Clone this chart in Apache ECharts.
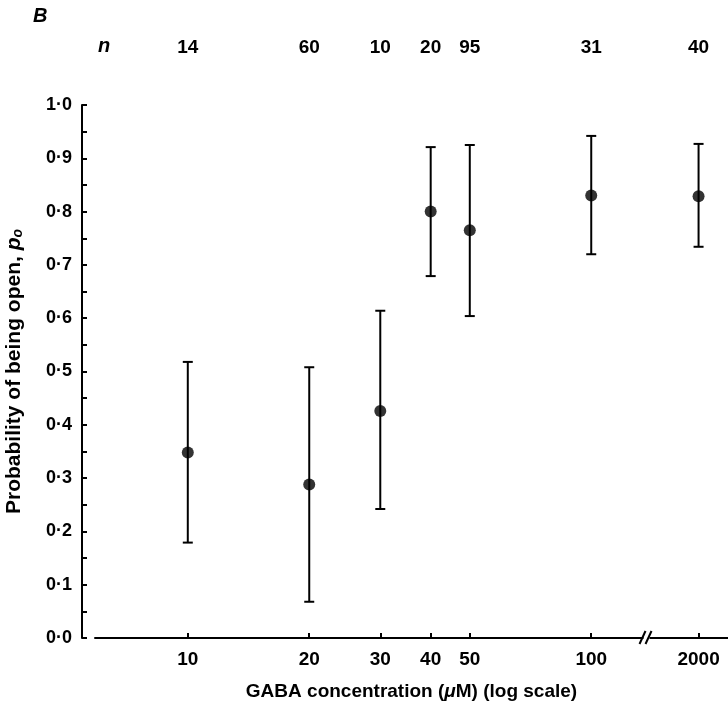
<!DOCTYPE html>
<html>
<head>
<meta charset="utf-8">
<script src="https://cdn.jsdelivr.net/npm/echarts@6/dist/echarts.min.js"></script>
<style>html,body{margin:0;padding:0;background:#fff;}#c{width:728px;height:702px;}</style>
</head>
<body>
<div id="c"></div>
<script>
// ---- data ----
const concentrations = [10, 20, 30, 40, 50, 100, 2000];
const xTickLabels = ['10', '20', '30', '40', '50', '100', '2000'];
const nValues = [14, 60, 10, 20, 95, 31, 40];
const meanPo = [0.348, 0.288, 0.426, 0.800, 0.765, 0.830, 0.829];
const upperPo = [0.518, 0.508, 0.614, 0.921, 0.925, 0.942, 0.927];
const lowerPo = [0.179, 0.068, 0.242, 0.679, 0.604, 0.720, 0.734];

// broken log axis: values above 100 are shifted left by BREAK_GAP decades
const BREAK_AFTER = 100;
const BREAK_GAP = 1.035;
const BREAK_MARK = 2.137;
function axisPos(c) { return c > BREAK_AFTER ? Math.log10(c) - BREAK_GAP : Math.log10(c); }
const xPositions = concentrations.map(axisPos);
const X_MIN = 0.770, X_MAX = 2.339;

function labelFor(v, arr) {
  let best = 0, d = Infinity;
  xPositions.forEach((p, i) => { const dd = Math.abs(p - v); if (dd < d) { d = dd; best = i; } });
  return d < 1e-6 ? String(arr[best]) : '';
}

const FONT = '"Liberation Sans", Arial, Helvetica, sans-serif';
const chart = echarts.init(document.getElementById('c'));

chart.setOption({
  animation: false,
  backgroundColor: '#fff',
  grid: { left: 95, right: 0, top: 105, bottom: 64, containLabel: false, outerBoundsMode: 'none' },
  xAxis: [{
    type: 'value', min: X_MIN, max: X_MAX, position: 'bottom',
    splitLine: { show: false },
    axisLine: { show: true, onZero: false, lineStyle: { color: '#000', width: 2 } },
    axisTick: { show: true, inside: true, length: 5, customValues: xPositions, lineStyle: { color: '#000', width: 2 } },
    axisLabel: {
      show: true, customValues: xPositions, margin: 12,
      color: '#000', fontFamily: FONT, fontWeight: 'bold', fontSize: 19,
      formatter: v => labelFor(v, xTickLabels)
    },
    name: 'GABA concentration ({m|μ}M) (log scale)',
    nameLocation: 'middle', nameGap: 44,
    nameTextStyle: {
      color: '#000', fontFamily: FONT, fontWeight: 'bold', fontSize: 19,
      rich: { m: { fontStyle: 'italic', fontFamily: FONT, fontWeight: 'bold', fontSize: 19, color: '#000' } }
    }
  }, {
    type: 'value', min: X_MIN, max: X_MAX, position: 'top',
    splitLine: { show: false },
    axisLine: { show: false },
    axisTick: { show: false },
    axisLabel: {
      show: true, customValues: xPositions, margin: 48,
      color: '#000', fontFamily: FONT, fontWeight: 'bold', fontSize: 19,
      formatter: v => labelFor(v, nValues)
    }
  }],
  yAxis: {
    type: 'value', min: 0, max: 1, interval: 0.1, offset: 13,
    splitLine: { show: false },
    axisLine: { show: true, onZero: false, lineStyle: { color: '#000', width: 2 } },
    axisTick: { show: true, inside: true, length: 5, lineStyle: { color: '#000', width: 2 } },
    minorTick: { show: true, splitNumber: 2, length: 5, lineStyle: { color: '#000', width: 2 } },
    axisLabel: {
      color: '#000', fontFamily: FONT, fontWeight: 'bold', fontSize: 18, margin: 10,
      formatter: v => v.toFixed(1).replace('.', '·')
    },
    name: 'Probability of being open, {p|p}{s|o}',
    nameLocation: 'middle', nameGap: 57,
    nameTextStyle: {
      color: '#000', fontFamily: FONT, fontWeight: 'bold', fontSize: 21,
      rich: {
        p: { fontStyle: 'italic', fontFamily: FONT, fontWeight: 'bold', fontSize: 21, color: '#000' },
        s: { fontStyle: 'italic', fontFamily: FONT, fontWeight: 'bold', fontSize: 14, color: '#000', padding: [8, 0, 0, 0] }
      }
    }
  },
  graphic: [
    { type: 'text', left: 33, top: 6, style: { text: 'B', fill: '#000', font: 'italic bold 20px ' + FONT } },
    { type: 'text', left: 98, top: 36, style: { text: 'n', fill: '#000', font: 'italic bold 20px ' + FONT } }
  ],
  series: [{
    type: 'custom',
    name: 'error bars',
    clip: false,
    data: xPositions.map((x, i) => [x, lowerPo[i], upperPo[i]]),
    renderItem: function (params, api) {
      const x = api.value(0);
      const lo = api.coord([x, api.value(1)]);
      const hi = api.coord([x, api.value(2)]);
      const cap = 5;
      const st = { stroke: '#000', lineWidth: 2 };
      return {
        type: 'group',
        children: [
          { type: 'line', shape: { x1: lo[0], y1: lo[1], x2: hi[0], y2: hi[1] }, style: st },
          { type: 'line', shape: { x1: lo[0] - cap, y1: lo[1], x2: lo[0] + cap, y2: lo[1] }, style: st },
          { type: 'line', shape: { x1: hi[0] - cap, y1: hi[1], x2: hi[0] + cap, y2: hi[1] }, style: st }
        ]
      };
    }
  }, {
    type: 'scatter',
    name: 'mean',
    symbol: 'circle', symbolSize: 12,
    itemStyle: { color: '#000' },
    data: xPositions.map((x, i) => [x, meanPo[i]])
  }, {
    type: 'custom',
    name: 'axis break',
    clip: false, silent: true,
    data: [[BREAK_MARK, 0]],
    renderItem: function (params, api) {
      const p = api.coord([api.value(0), api.value(1)]);
      const st = { stroke: '#000', lineWidth: 2 };
      return {
        type: 'group',
        children: [
          { type: 'rect', shape: { x: p[0] - 3, y: p[1] - 3, width: 6, height: 6 }, style: { fill: '#fff' } },
          { type: 'line', shape: { x1: p[0] - 7, y1: p[1] + 6, x2: p[0] - 1, y2: p[1] - 7 }, style: st },
          { type: 'line', shape: { x1: p[0] - 1, y1: p[1] + 6, x2: p[0] + 5, y2: p[1] - 7 }, style: st }
        ]
      };
    }
  }]
});
</script>
</body>
</html>
